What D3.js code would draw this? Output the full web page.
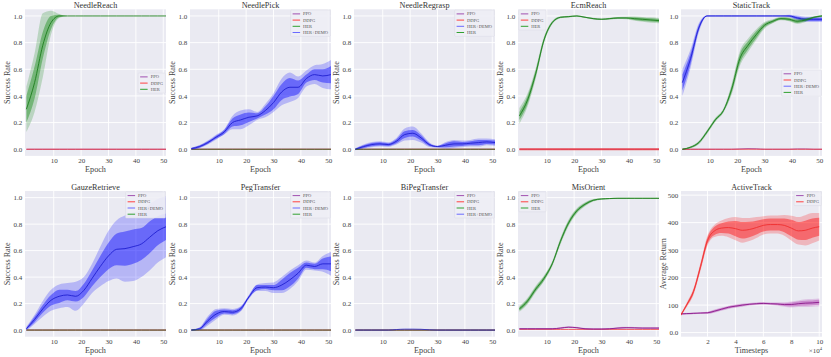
<!DOCTYPE html>
<html>
<head>
<meta charset="utf-8">
<script src="https://cdn.jsdelivr.net/npm/d3@7"></script>
<style>
  body { margin: 0; background: #fff; }
  svg text { font-family: "Liberation Serif", "Times New Roman", serif; font-weight: normal; }
</style>
</head>
<body>
<svg id="chart" width="831" height="357"></svg>
<script>
// ---- data ----
var epochs = [0, 3, 6, 9, 12, 15, 18, 21, 24, 27, 30, 33, 36, 39, 42, 45, 48, 51];
var epochTicks = [10, 20, 30, 40, 50];
var rateTicks = [0, 0.2, 0.4, 0.6, 0.8, 1.0];

var zeroLine = [0, 0, 0, 0, 0, 0, 0, 0, 0, 0, 0, 0, 0, 0, 0, 0, 0, 0];

var needleReachHer    = [0.30, 0.50, 0.78, 0.95, 1.0, 1.0, 1.0, 1.0, 1.0, 1.0, 1.0, 1.0, 1.0, 1.0, 1.0, 1.0, 1.0, 1.0];
var needleReachHerIn  = [0.10, 0.12, 0.10, 0.05, 0.01, 0, 0, 0, 0, 0, 0, 0, 0, 0, 0, 0, 0, 0];
var needleReachHerOut = [0.17, 0.22, 0.24, 0.09, 0.015, 0, 0, 0, 0, 0, 0, 0, 0, 0, 0, 0, 0, 0];

var needlePickDemo    = [0.005, 0.02, 0.05, 0.09, 0.13, 0.20, 0.22, 0.24, 0.25, 0.29, 0.35, 0.43, 0.465, 0.465, 0.53, 0.56, 0.55, 0.56];
var needlePickDemoIn  = [0.005, 0.008, 0.01, 0.012, 0.015, 0.03, 0.04, 0.035, 0.02, 0.03, 0.05, 0.06, 0.07, 0.05, 0.03, 0.04, 0.05, 0.065];
var needlePickDemoOut = [0.008, 0.012, 0.015, 0.018, 0.02, 0.05, 0.07, 0.06, 0.03, 0.05, 0.07, 0.10, 0.11, 0.08, 0.06, 0.07, 0.09, 0.11];

var regraspDemo    = [0.0, 0.02, 0.035, 0.04, 0.035, 0.06, 0.11, 0.12, 0.085, 0.035, 0.02, 0.03, 0.04, 0.04, 0.045, 0.05, 0.055, 0.05];
var regraspDemoIn  = [0.005, 0.01, 0.012, 0.012, 0.01, 0.015, 0.025, 0.025, 0.02, 0.01, 0.005, 0.015, 0.02, 0.015, 0.015, 0.02, 0.015, 0.015];
var regraspDemoOut = [0.008, 0.015, 0.02, 0.02, 0.018, 0.025, 0.045, 0.05, 0.035, 0.018, 0.008, 0.025, 0.03, 0.025, 0.025, 0.03, 0.025, 0.025];

var ecmReachHer    = [0.25, 0.37, 0.57, 0.82, 0.95, 0.99, 0.995, 1.0, 0.99, 0.98, 0.975, 0.98, 0.985, 0.985, 0.98, 0.975, 0.97, 0.965];
var ecmReachHerIn  = [0.03, 0.03, 0.025, 0.015, 0.008, 0.005, 0.004, 0.004, 0.004, 0.004, 0.004, 0.004, 0.005, 0.006, 0.01, 0.012, 0.012, 0.012];
var ecmReachHerOut = [0.06, 0.05, 0.04, 0.025, 0.012, 0.008, 0.006, 0.006, 0.006, 0.006, 0.006, 0.006, 0.008, 0.01, 0.016, 0.018, 0.02, 0.02];

var staticPpo     = [0, 0, 0, 0, 0, 0, 0, 0.002, 0.004, 0.003, 0, 0, 0, 0, 0.002, 0.002, 0, 0];
var staticDemo    = [0.50, 0.68, 0.91, 1.0, 1.0, 1.0, 1.0, 1.0, 1.0, 1.0, 1.0, 1.0, 1.0, 1.0, 0.985, 0.975, 0.975, 0.975];
var staticDemoIn  = [0.06, 0.04, 0.02, 0.003, 0.003, 0.003, 0.003, 0.003, 0.003, 0.003, 0.003, 0.003, 0.003, 0.005, 0.01, 0.012, 0.012, 0.012];
var staticDemoOut = [0.10, 0.07, 0.035, 0.006, 0.006, 0.006, 0.006, 0.006, 0.006, 0.006, 0.006, 0.006, 0.006, 0.01, 0.018, 0.02, 0.02, 0.02];
var staticHer     = [0.0, 0.015, 0.05, 0.13, 0.22, 0.29, 0.45, 0.68, 0.78, 0.86, 0.93, 0.96, 0.98, 0.975, 0.96, 0.97, 0.99, 1.0];
var staticHerIn   = [0.003, 0.005, 0.008, 0.01, 0.01, 0.01, 0.025, 0.035, 0.03, 0.025, 0.015, 0.01, 0.008, 0.01, 0.012, 0.01, 0.005, 0.005];
var staticHerOut  = [0.005, 0.008, 0.012, 0.015, 0.015, 0.015, 0.04, 0.055, 0.05, 0.04, 0.025, 0.015, 0.012, 0.015, 0.02, 0.015, 0.008, 0.008];

var gauzeDemo    = [0.01, 0.08, 0.16, 0.225, 0.255, 0.265, 0.255, 0.30, 0.39, 0.48, 0.56, 0.61, 0.615, 0.63, 0.65, 0.70, 0.75, 0.78];
var gauzeDemoIn  = [0.008, 0.02, 0.03, 0.04, 0.05, 0.04, 0.04, 0.05, 0.06, 0.08, 0.10, 0.12, 0.13, 0.13, 0.12, 0.12, 0.11, 0.10];
var gauzeDemoOut = [0.015, 0.035, 0.06, 0.08, 0.09, 0.09, 0.11, 0.10, 0.11, 0.15, 0.19, 0.22, 0.25, 0.26, 0.25, 0.25, 0.24, 0.23];

var pegDemo    = [0.0, 0.01, 0.07, 0.12, 0.14, 0.135, 0.16, 0.25, 0.32, 0.325, 0.32, 0.34, 0.38, 0.43, 0.49, 0.48, 0.50, 0.50];
var pegDemoIn  = [0.004, 0.008, 0.02, 0.025, 0.015, 0.015, 0.015, 0.01, 0.02, 0.015, 0.02, 0.04, 0.05, 0.04, 0.02, 0.02, 0.04, 0.055];
var pegDemoOut = [0.006, 0.012, 0.035, 0.04, 0.025, 0.025, 0.02, 0.015, 0.025, 0.03, 0.04, 0.06, 0.07, 0.06, 0.035, 0.03, 0.06, 0.09];

var biPegDemo = [0, 0, 0, 0, 0, 0.004, 0.007, 0.007, 0.006, 0.002, 0, 0, 0, 0, 0, 0, 0, 0];

var misHer    = [0.16, 0.22, 0.31, 0.39, 0.50, 0.67, 0.81, 0.90, 0.95, 0.98, 0.99, 0.993, 0.995, 0.995, 0.995, 0.995, 0.995, 0.995];
var misHerIn  = [0.012, 0.015, 0.015, 0.015, 0.012, 0.015, 0.015, 0.012, 0.01, 0.006, 0.004, 0.003, 0.003, 0.003, 0.003, 0.003, 0.003, 0.003];
var misHerOut = [0.022, 0.025, 0.025, 0.022, 0.02, 0.025, 0.025, 0.02, 0.015, 0.01, 0.006, 0.005, 0.005, 0.005, 0.005, 0.005, 0.005, 0.005];
var misPpo    = [0.01, 0.01, 0.01, 0.01, 0.01, 0.015, 0.022, 0.018, 0.01, 0.008, 0.008, 0.01, 0.015, 0.018, 0.017, 0.015, 0.015, 0.015];
var misPpoIn  = [0.003, 0.003, 0.003, 0.003, 0.003, 0.004, 0.004, 0.004, 0.003, 0.003, 0.003, 0.003, 0.004, 0.004, 0.004, 0.004, 0.004, 0.004];
var misPpoOut = [0.005, 0.005, 0.005, 0.005, 0.005, 0.007, 0.007, 0.007, 0.005, 0.005, 0.005, 0.005, 0.007, 0.007, 0.007, 0.007, 0.007, 0.007];
var misDdpg   = [0.005, 0.005, 0.005, 0.005, 0.005, 0.005, 0.005, 0.005, 0.005, 0.005, 0.005, 0.005, 0.005, 0.005, 0.005, 0.005, 0.005, 0.005];

var timesteps = [0.1, 0.5, 1, 1.5, 2, 2.5, 3, 3.5, 4, 4.5, 5, 5.5, 6, 6.5, 7, 7.5, 8, 8.5, 9, 9.5, 10];
var timeTicks = [2, 4, 6, 8, 10];
var returnTicks = [0, 100, 200, 300, 400, 500];
var returnTickLabels = ["0.0", "100", "200", "300", "400", "500"];
var activeDdpg    = [65, 100, 150, 240, 335, 370, 380, 382, 378, 372, 375, 382, 390, 393, 393, 390, 380, 370, 372, 380, 385];
var activeDdpgIn  = [3, 5, 8, 10, 12, 15, 18, 22, 28, 30, 28, 25, 22, 22, 22, 25, 30, 32, 35, 35, 33];
var activeDdpgOut = [5, 8, 12, 15, 18, 22, 28, 35, 42, 45, 42, 38, 33, 33, 33, 38, 45, 50, 55, 55, 50];
var activePpo     = [68, 69, 70, 71, 72, 78, 85, 92, 96, 100, 103, 105, 106, 105, 104, 102, 102, 105, 107, 108, 110];
var activePpoIn   = [2, 2, 2, 2, 3, 4, 4, 4, 4, 4, 3, 3, 3, 3, 4, 5, 7, 8, 9, 9, 9];
var activePpoOut  = [3, 3, 3, 3, 4, 6, 6, 6, 6, 6, 5, 5, 5, 5, 6, 8, 11, 12, 14, 14, 14];

// ---- styles ----
var colors = {
    "PPO":      { line: "#8b1a8b", fill: "#b03cb0", legend: "#a050b0" },
    "DDPG":     { line: "#f03030", fill: "#ff0000", legend: "#ff4040" },
    "HER":      { line: "#1e7e1e", fill: "#108a10", legend: "#30a030" },
    "HER+DEMO": { line: "#2020d0", fill: "#0000ff", legend: "#6a6aff" }
};
var textColor = "#444";

var colLeft = [25, 190, 354, 518, 681];
var rowTop = [9.3, 191];
var rowHeight = [146.6, 145.7];
var panelW = 141;

function s(name, mean, inner, outer) {
    return { name: name, mean: mean, inner: inner, outer: outer };
}

var rateOpts = { x: epochs, xDomain: [-0.5, 51], xTicks: epochTicks, yDomain: [-0.05, 1.05], yTicks: rateTicks,
                 yFormat: d3.format(".1f"), xLabel: "Epoch", yLabel: "Success Rate" };

var panels = [
    { title: "NeedleReach", col: 0, row: 0, legend: "cr", series: [
        s("PPO", zeroLine), s("HER", needleReachHer, needleReachHerIn, needleReachHerOut), s("DDPG", zeroLine)],
      legendOrder: ["PPO", "DDPG", "HER"] },
    { title: "NeedlePick", col: 1, row: 0, legend: "ur", series: [
        s("PPO", zeroLine), s("DDPG", zeroLine), s("HER", zeroLine), s("HER+DEMO", needlePickDemo, needlePickDemoIn, needlePickDemoOut)],
      legendOrder: ["PPO", "DDPG", "HER", "HER+DEMO"] },
    { title: "NeedleRegrasp", col: 2, row: 0, legend: "ur", series: [
        s("PPO", zeroLine), s("DDPG", zeroLine), s("HER+DEMO", regraspDemo, regraspDemoIn, regraspDemoOut), s("HER", zeroLine)],
      legendOrder: ["PPO", "DDPG", "HER+DEMO", "HER"] },
    { title: "EcmReach", col: 3, row: 0, legend: "ul", series: [
        s("HER", ecmReachHer, ecmReachHerIn, ecmReachHerOut), s("PPO", zeroLine), s("DDPG", zeroLine)],
      legendOrder: ["PPO", "DDPG", "HER"], thickZero: true },
    { title: "StaticTrack", col: 4, row: 0, legend: "cr", series: [
        s("PPO", staticPpo), s("DDPG", zeroLine), s("HER+DEMO", staticDemo, staticDemoIn, staticDemoOut), s("HER", staticHer, staticHerIn, staticHerOut)],
      legendOrder: ["PPO", "DDPG", "HER+DEMO", "HER"] },
    { title: "GauzeRetrieve", col: 0, row: 1, legend: "ur", series: [
        s("PPO", zeroLine), s("DDPG", zeroLine), s("HER+DEMO", gauzeDemo, gauzeDemoIn, gauzeDemoOut), s("HER", zeroLine)],
      legendOrder: ["PPO", "DDPG", "HER+DEMO", "HER"] },
    { title: "PegTransfer", col: 1, row: 1, legend: "ur", series: [
        s("PPO", zeroLine), s("DDPG", zeroLine), s("HER+DEMO", pegDemo, pegDemoIn, pegDemoOut), s("HER", zeroLine)],
      legendOrder: ["PPO", "DDPG", "HER+DEMO", "HER"] },
    { title: "BiPegTransfer", col: 2, row: 1, legend: "ur", series: [
        s("PPO", zeroLine), s("DDPG", zeroLine), s("HER", zeroLine), s("HER+DEMO", biPegDemo)],
      legendOrder: ["PPO", "DDPG", "HER", "HER+DEMO"] },
    { title: "MisOrient", col: 3, row: 1, legend: "ul", series: [
        s("DDPG", misDdpg), s("PPO", misPpo, misPpoIn, misPpoOut), s("HER", misHer, misHerIn, misHerOut)],
      legendOrder: ["PPO", "DDPG", "HER"] }
];
panels.forEach(function (p) { Object.keys(rateOpts).forEach(function (k) { p[k] = rateOpts[k]; }); });

panels.push({ title: "ActiveTrack", col: 4, row: 1, legend: "ur",
    x: timesteps, xDomain: [0.1, 10.2], xTicks: timeTicks, yDomain: [-15, 515], yTicks: returnTicks,
    yFormat: function (d, i) { return returnTickLabels[i]; }, xLabel: "Timesteps", yLabel: "Average Return", offset: "4",
    series: [s("PPO", activePpo, activePpoIn, activePpoOut), s("DDPG", activeDdpg, activeDdpgIn, activeDdpgOut)],
    legendOrder: ["PPO", "DDPG"] });

var svg = d3.select("#chart");
var defs = svg.append("defs");

var drawPanel = function (p, idx) {
    var h = rowHeight[p.row];
    var g = svg.append("g").attr("transform", "translate(" + colLeft[p.col] + "," + rowTop[p.row] + ")");
    var x = d3.scaleLinear().domain(p.xDomain).range([0, panelW]);
    var y = d3.scaleLinear().domain(p.yDomain).range([h, 0]);

    g.append("rect").attr("width", panelW).attr("height", h).attr("fill", "#eaeaf2");

    // grid
    g.selectAll(".gx").data(p.xTicks).enter().append("line")
        .attr("x1", x).attr("x2", x).attr("y1", 0).attr("y2", h)
        .attr("stroke", "#fff").attr("stroke-width", 0.9);
    g.selectAll(".gy").data(p.yTicks).enter().append("line")
        .attr("y1", y).attr("y2", y).attr("x1", 0).attr("x2", panelW)
        .attr("stroke", "#fff").attr("stroke-width", 0.9);

    defs.append("clipPath").attr("id", "clip" + idx)
        .append("rect").attr("width", panelW).attr("height", h);
    var cg = g.append("g").attr("clip-path", "url(#clip" + idx + ")");

    p.series.forEach(function (sr) {
        var c = colors[sr.name];
        var pts = p.x.map(function (xv, i) { return i; });
        if (sr.outer) {
            var band = function (w) {
                return d3.area().curve(d3.curveMonotoneX)
                    .x(function (i) { return x(p.x[i]); })
                    .y0(function (i) { return y(sr.mean[i] - w[i]); })
                    .y1(function (i) { return y(sr.mean[i] + w[i]); });
            };
            cg.append("path").attr("d", band(sr.outer)(pts)).attr("fill", c.fill).attr("fill-opacity", 0.22);
            cg.append("path").attr("d", band(sr.inner)(pts)).attr("fill", c.fill).attr("fill-opacity", 0.42);
        }
        var line = d3.line().curve(d3.curveMonotoneX)
            .x(function (i) { return x(p.x[i]); })
            .y(function (i) { return y(sr.mean[i]); });
        var flat = !sr.outer;
        cg.append("path").attr("d", line(pts)).attr("fill", "none")
            .attr("stroke", c.line)
            .attr("stroke-opacity", flat ? 0.75 : 0.9)
            .attr("stroke-width", flat && p.thickZero && sr.name === "DDPG" ? 2 : 1);
    });

    // axes
    var ax = g.append("g").attr("transform", "translate(0," + h + ")")
        .call(d3.axisBottom(x).tickValues(p.xTicks).tickSize(0).tickPadding(2.5));
    var ay = g.append("g")
        .call(d3.axisLeft(y).tickValues(p.yTicks).tickFormat(p.yFormat).tickSize(0).tickPadding(2.7));
    [ax, ay].forEach(function (a) {
        a.select(".domain").remove();
        a.attr("font-family", null).attr("font-size", 7);
        a.selectAll("text").attr("fill", textColor);
    });

    g.append("text").attr("x", panelW / 2).attr("y", -1.2).attr("text-anchor", "middle")
        .attr("font-size", 8.2).attr("fill", "#333").text(p.title);
    g.append("text").attr("x", panelW / 2).attr("y", h + 16).attr("text-anchor", "middle")
        .attr("font-size", 8.2).attr("fill", textColor).text(p.xLabel);
    g.append("text").attr("transform", "translate(-17.7," + (h / 2) + ") rotate(-90)")
        .attr("dy", "0.35em").attr("text-anchor", "middle")
        .attr("font-size", 8.2).attr("fill", textColor).text(p.yLabel);

    if (p.offset) {
        var ot = g.append("text").attr("x", panelW).attr("y", h + 16).attr("text-anchor", "end")
            .attr("font-size", 7).attr("fill", textColor);
        ot.append("tspan").text("\u00d710");
        ot.append("tspan").attr("dy", -3).attr("font-size", 4.5).text(p.offset);
    }

    // legend
    var rowH = 6.2;
    var lg = g.append("g");
    var box = lg.append("rect").attr("fill", "#eeeef5").attr("fill-opacity", 0.9)
        .attr("stroke", "#dadae4").attr("stroke-width", 0.5).attr("rx", 0.8);
    var maxW = 0;
    p.legendOrder.forEach(function (name, i) {
        var yy = 3.8 + i * rowH;
        lg.append("line").attr("x1", 2).attr("x2", 9.5).attr("y1", yy).attr("y2", yy)
            .attr("stroke", colors[name].legend).attr("stroke-width", 1);
        var t = lg.append("text").attr("x", 12.5).attr("y", yy).attr("dy", "0.35em")
            .attr("font-size", 4.5).attr("fill", "#555").text(name);
        maxW = Math.max(maxW, t.node().getComputedTextLength());
    });
    var bw = 12.5 + maxW + 2.5, bh = p.legendOrder.length * rowH + 1.4;
    box.attr("width", bw).attr("height", bh);
    var lx, ly;
    if (p.legend === "ur") { lx = panelW - bw - 0.6; ly = 0.8; }
    else if (p.legend === "ul") { lx = 0.8; ly = 0.8; }
    else { lx = panelW - bw - 0.6; ly = h / 2 - bh / 2 + 0.5; }
    lg.attr("transform", "translate(" + lx + "," + ly + ")");
};

panels.forEach(drawPanel);
</script>
</body>
</html>
